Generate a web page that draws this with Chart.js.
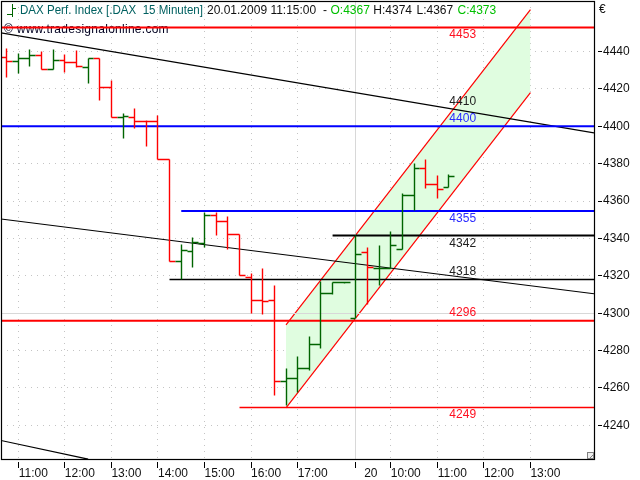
<!DOCTYPE html>
<html>
<head>
<meta charset="utf-8">
<style>
  html, body { margin: 0; padding: 0; background: #fff; }
  #wrap { width: 640px; height: 480px; }
</style>
<script src="https://cdn.jsdelivr.net/npm/chart.js@4"></script>
</head>
<body>
<div id="wrap"><canvas id="chart" width="640" height="480"></canvas></div>
<script>
// bars, 15 minutes each. index 0 is 11:00 on the first day
const barIndex = [-1,0,1,2,3,4,5,6,7,8,9,10,11,12,13,14,15,16,17,18,19,20,21,22,23,24,25,26,27,28,29,30,31,32,33,34,35,36,37];
const opens  = [4437,4434.6,4436.4,4438,4430.5,4435.3,4434.3,4431.6,4436,4420.9,4404.8,4404.6,4402.8,4402.6,4382,4327.5,4333,4337.3,4352.2,4349,4342,4319,4307,4306.7,4263.6,4265.2,4270.6,4283.5,4310.6,4316.2,4297.2,4332.5,4323.7,4324,4334.3,4363,4377.4,4368.8,4367];
const highs  = [4441.8,4438.7,4440.9,4439.8,4440.9,4438.2,4440.4,4436.4,4436,4424.3,4406.9,4409.6,4403.3,4405.5,4382,4336.8,4340.4,4354,4354,4351.8,4342,4321,4323.7,4315,4270.6,4276.7,4287.4,4317,4316.5,4316.4,4341.8,4335.3,4336.2,4343.8,4364,4380,4382,4373.8,4374];
const lows   = [4426,4428.2,4432,4430.5,4430.5,4428.7,4431.6,4422.8,4413.7,4404.8,4393.3,4399,4389,4382,4327.5,4317.8,4324.6,4335.3,4341.8,4334.3,4320,4300,4299.4,4256,4250.5,4257.7,4269.2,4281,4309.8,4316,4296.9,4304.6,4315,4323.7,4334,4355,4366.5,4361.6,4367];
const closes = [4434.6,4436.4,4438,4430.5,4435.3,4434.3,4432.1,4436,4420.9,4404.8,4405,4402.8,4402.6,4382,4327.5,4333.4,4338,4352.2,4349,4342,4320,4306.6,4306,4263.6,4265.2,4270.6,4283.5,4310.6,4316.2,4316.2,4331.6,4324.3,4323.9,4336,4363,4377.4,4368.8,4366,4373];

// axis
const xMin = -1.487, xMax = 49.46;
const yMin = 4222, yMax = 4467;
const xTickIndex = [0,4,8,12,16,20,24,29,32,36,40,44];
const xTickLabels = ['11:00','12:00','13:00','14:00','15:00','16:00','17:00','20','10:00','11:00','12:00','13:00'];
const yTickValues = [4240,4260,4280,4300,4320,4340,4360,4380,4400,4420,4440];

// horizontal levels: value, first bar index
const levelValues = [4452.8,4400,4354.6,4341.6,4317.8,4296,4249.6];
const levelStarts = [xMin,xMin,14,27,13,xMin,19];
const levelColors = ['#ff0000','#0000ff','#0000ff','#000000','#000000','#ff0000','#ff0000'];
const levelWidths = [2,2,2,2,1.4,2,1.4];

// trend lines
const trendFromX = [xMin,xMin,xMin];
const trendFromY = [4450,4350.4,4231.9];
const trendToX = [xMax,xMax,6];
const trendToY = [4396.4,4310.4,4221.9];

// green channel
const channelX = [23,44];
const channelUpper = [4293.7,4462.4];
const channelLower = [4249.4,4418];

// value labels on the chart
const noteTexts = ['4453','4410','4400','4355','4342','4318','4296','4249'];
const noteValues = [4453,4410,4400,4355,4342,4318,4296,4249];
const noteShift = [8,-6,-7.5,8,9,-7.5,-7.5,6];
const noteColors = ['#ff1020','#202020','#2a2aff','#2a2aff','#202020','#202020','#ff1020','#ff1020'];
const noteIndex = 38.18;

// splits the bars in stem + open tick + close tick segments for one colour
function barSegments(isUp) {
    const pts = [];
    barIndex.forEach(function (x, i) {
        if ((closes[i] >= opens[i]) !== isUp) return;
        pts.push({x: x, y: lows[i]}, {x: x, y: highs[i]}, {x: x, y: NaN});
        pts.push({x: x - 0.5, y: opens[i]}, {x: x, y: opens[i]}, {x: x, y: NaN});
        pts.push({x: x, y: closes[i]}, {x: x + 0.5, y: closes[i]}, {x: x, y: NaN});
    });
    return pts;
}

function lineSet(data, color, width, snap) {
    return {type: 'line', data: data, borderColor: color, borderWidth: width, pointRadius: 0,
        tension: 0, fill: false, spanGaps: false, snap: snap, borderCapStyle: 'butt'};
}

const datasets = [];
// channel first so it stays under everything
datasets.push(Object.assign(lineSet(channelX.map((x, i) => ({x: x, y: channelUpper[i]})), '#ff0000', 1.2, false),
    {fill: '+1', backgroundColor: '#e0fde0'}));
datasets.push(lineSet(channelX.map((x, i) => ({x: x, y: channelLower[i]})), '#ff0000', 1.2, false));
// 4300 line and the day break are solid light grey
datasets.push(lineSet([{x: xMin, y: 4300}, {x: xMax, y: 4300}], '#d8d8d8', 1, true));
datasets.push(lineSet([{x: 29, y: yMin}, {x: 29, y: yMax}], '#d8d8d8', 1, true));
trendFromX.forEach(function (x, i) {
    datasets.push(lineSet([{x: x, y: trendFromY[i]}, {x: trendToX[i], y: trendToY[i]}], '#000000', 1.2, false));
});
levelValues.forEach(function (v, i) {
    datasets.push(lineSet([{x: levelStarts[i], y: v}, {x: xMax, y: v}], levelColors[i], levelWidths[i], levelWidths[i] < 2));
});
datasets.push(lineSet(barSegments(false), '#ff0000', 1.4, true));
datasets.push(lineSet(barSegments(true), '#006400', 1.4, true));
// chart.js paints low order on top, so the last pushed set gets the lowest
datasets.forEach(function (ds, i) { ds.order = datasets.length - i; });

// keep the thin lines crisp, like the original
const snapPlugin = {
    id: 'snap',
    afterDatasetsUpdate(chart) {
        chart.data.datasets.forEach(function (ds, i) {
            if (!ds.snap) return;
            chart.getDatasetMeta(i).data.forEach(function (pt) {
                if (isNaN(pt.y)) return;
                pt.x = Math.floor(pt.x) + 0.5;
                pt.y = Math.floor(pt.y) + 0.5;
            });
        });
    }
};

const decorPlugin = {
    id: 'decor',
    beforeDatasetsDraw(chart) {
        // the red 4453 line runs over the url text
        const ctx = chart.ctx;
        ctx.save();
        ctx.textBaseline = 'middle';
        ctx.textAlign = 'left';
        ctx.font = '12px "Liberation Sans"';
        ctx.letterSpacing = '0.27px';
        ctx.fillStyle = '#000020';
        ctx.fillText('\u00a9 www.tradesignalonline.com', 4, 29.5);
        ctx.restore();
    },
    afterDatasetsDraw(chart) {
        const ctx = chart.ctx, a = chart.chartArea;
        const xs = chart.scales.x, ys = chart.scales.y;
        ctx.save();
        ctx.textBaseline = 'middle';
        ctx.font = '12px "Liberation Sans"';

        // notes next to the levels
        ctx.textAlign = 'center';
        noteTexts.forEach(function (t, i) {
            ctx.fillStyle = noteColors[i];
            ctx.fillText(t, xs.getPixelForValue(noteIndex), ys.getPixelForValue(noteValues[i]) + noteShift[i]);
        });

        // header
        ctx.textAlign = 'left';
        ctx.fillStyle = '#006060';
        ctx.fillText('DAX Perf. Index [.DAX  15 Minuten]', 20, 10.5, 183);
        ctx.fillStyle = '#101010';
        ctx.fillText('20.01.2009 11:15:00', 207, 10.5, 113);
        ctx.fillText('-', 323, 10.5);
        ctx.fillStyle = '#00c000';
        ctx.fillText('O:4367', 330.5, 10.5);
        ctx.fillStyle = '#101010';
        ctx.fillText('H:4374', 373.3, 10.5);
        ctx.fillText('L:4367', 416.5, 10.5);
        ctx.fillStyle = '#00c000';
        ctx.fillText('C:4373', 457.5, 10.5);
        ctx.fillStyle = '#101010';
        ctx.fillText('\u20ac', 599, 9.5);

        // little bar icon in the header
        ctx.strokeStyle = '#006400';
        ctx.lineWidth = 1;
        ctx.beginPath();
        ctx.moveTo(12.5, 4); ctx.lineTo(12.5, 17);
        ctx.moveTo(7, 14.5); ctx.lineTo(12, 14.5);
        ctx.moveTo(13, 8.5); ctx.lineTo(16, 8.5);
        ctx.stroke();

        // frame
        ctx.strokeStyle = '#000';
        ctx.lineWidth = 1.2;
        ctx.strokeRect(a.left + 0.5, a.top + 0.5, a.right - a.left, a.bottom - a.top);
        ctx.lineWidth = 1;

        // ticks sit a bit away from the frame
        ctx.beginPath();
        yTickValues.forEach(function (v) {
            const y = Math.floor(ys.getPixelForValue(v)) + 0.5;
            ctx.moveTo(a.right + 4, y); ctx.lineTo(a.right + 8, y);
        });
        xTickIndex.forEach(function (v) {
            const x = Math.floor(xs.getPixelForValue(v)) + 0.5;
            ctx.moveTo(x, a.bottom + 3); ctx.lineTo(x, a.bottom + 9);
        });
        ctx.stroke();

        // resize grip in the corner
        ctx.strokeStyle = '#808080';
        ctx.strokeRect(a.right - 6.5, a.bottom - 6.5, 6, 6);
        ctx.fillStyle = '#eeeeee';
        ctx.fillRect(a.right - 6, a.bottom - 6, 5, 5);
        ctx.beginPath();
        ctx.moveTo(a.right - 5, a.bottom);
        ctx.lineTo(a.right - 1, a.bottom - 4);
        ctx.stroke();
        ctx.restore();
    }
};

new Chart(document.getElementById('chart'), {
    type: 'line',
    data: {datasets: datasets},
    plugins: [snapPlugin, decorPlugin],
    options: {
        responsive: false,
        animation: false,
        parsing: false,
        normalized: false,
        layout: {padding: {left: 1, top: 1, right: 0, bottom: 0}},
        plugins: {legend: {display: false}, title: {display: false}, tooltip: {enabled: false}, filler: {propagate: false}},
        scales: {
            x: {
                type: 'linear', min: xMin, max: xMax,
                afterBuildTicks: function (s) { s.ticks = xTickIndex.map(v => ({value: v})); },
                afterFit: function (s) { s.height = 21; s.paddingLeft = 0; s.paddingRight = 0; },
                grid: {color: '#c4c4c4', drawTicks: false, lineWidth: 1},
                border: {display: false, dash: [1, 5]},
                ticks: {
                    autoSkip: false, maxRotation: 0, minRotation: 0, padding: 7, labelOffset: 15, color: '#101010',
                    font: {family: '"Liberation Sans"', size: 12},
                    callback: function (v) { const i = xTickIndex.indexOf(v); return i < 0 ? '' : xTickLabels[i]; }
                }
            },
            y: {
                type: 'linear', position: 'right', min: yMin, max: yMax,
                afterBuildTicks: function (s) { s.ticks = yTickValues.map(v => ({value: v})); },
                afterFit: function (s) { s.width = 46; s.paddingTop = 0; s.paddingBottom = 0; },
                grid: {color: '#c4c4c4', drawTicks: false, lineWidth: 1},
                border: {display: false, dash: [1, 5]},
                ticks: {
                    padding: 9, color: '#101010', font: {family: '"Liberation Sans"', size: 12},
                    callback: function (v) { return String(v); }
                }
            }
        }
    }
});
</script>
</body>
</html>
